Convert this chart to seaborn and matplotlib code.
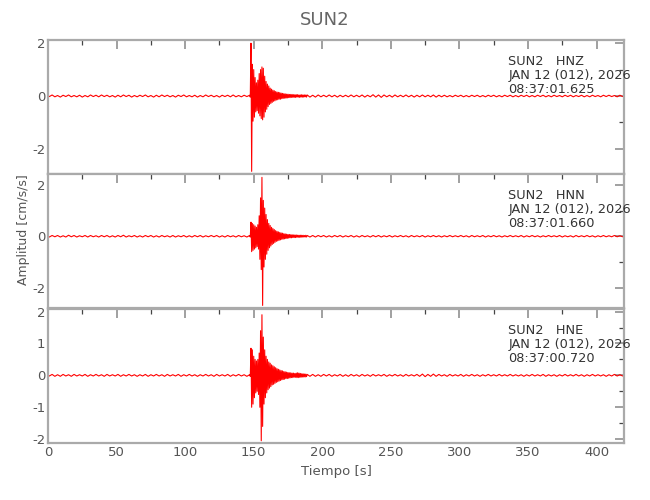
import numpy as np
import matplotlib
matplotlib.use("Agg")
import matplotlib.pyplot as plt
import seaborn as sns
from matplotlib.ticker import MultipleLocator

# --- data (cm/s/s) ---
# quiet noise before the event, one value every 2 s, ending at 145 s
hnz_pre = [0.03, -0.02, 0.04, -0.03, 0.02, -0.04, 0.03, -0.02, 0.04, -0.03,
           0.02, -0.03, 0.03, -0.04, 0.02, -0.03, 0.04, -0.02, 0.03, -0.03,
           0.04, -0.02, 0.03, -0.03, 0.02, -0.04, 0.03, -0.03, 0.04, -0.02,
           0.03, -0.04, 0.02, -0.03, 0.03, -0.02, 0.04, -0.03, 0.02, -0.04,
           0.03, -0.03, 0.04, -0.02, 0.03, -0.03, 0.02, -0.04, 0.03, -0.02,
           0.04, -0.03, 0.02, -0.03, 0.03, -0.04, 0.02, -0.03, 0.04, -0.02,
           0.03, -0.03, 0.02, -0.04, 0.03, -0.02, 0.03, -0.03, 0.04, -0.03,
           0.02, -0.03, 0.03, -0.02]
hnn_pre = [0.02, -0.03, 0.03, -0.02, 0.03, -0.03, 0.02, -0.03, 0.04, -0.02,
           0.03, -0.03, 0.02, -0.02, 0.03, -0.03, 0.03, -0.02, 0.02, -0.03,
           0.03, -0.02, 0.03, -0.03, 0.02, -0.03, 0.03, -0.02, 0.04, -0.03,
           0.02, -0.02, 0.03, -0.03, 0.02, -0.03, 0.03, -0.02, 0.03, -0.03,
           0.02, -0.03, 0.03, -0.02, 0.02, -0.03, 0.03, -0.03, 0.02, -0.02,
           0.03, -0.03, 0.02, -0.03, 0.03, -0.02, 0.03, -0.03, 0.02, -0.02,
           0.03, -0.02, 0.03, -0.03, 0.02, -0.03, 0.03, -0.02, 0.02, -0.03,
           0.03, -0.02, 0.02, -0.03]
hne_pre = [0.02, -0.02, 0.03, -0.03, 0.02, -0.03, 0.03, -0.02, 0.02, -0.03,
           0.03, -0.02, 0.02, -0.02, 0.03, -0.03, 0.02, -0.02, 0.03, -0.02,
           0.02, -0.03, 0.03, -0.02, 0.02, -0.02, 0.03, -0.03, 0.02, -0.02,
           0.03, -0.02, 0.02, -0.03, 0.02, -0.02, 0.03, -0.03, 0.02, -0.02,
           0.03, -0.02, 0.02, -0.03, 0.03, -0.02, 0.02, -0.02, 0.03, -0.03,
           0.02, -0.02, 0.03, -0.02, 0.02, -0.03, 0.02, -0.02, 0.03, -0.02,
           0.02, -0.03, 0.03, -0.02, 0.02, -0.02, 0.03, -0.03, 0.02, -0.02,
           0.03, -0.02, 0.02, -0.03]

# strong motion, one value every 0.5 s from 147 s
hnz_event = [0.03, -0.04, 2.0, -2.85, 1.2, -0.95, 1.0, -0.8, 0.7, -0.6,
             0.5, -0.55, 0.6, -0.65, 0.85, -0.75, 1.0, -0.85, 1.1, -0.9,
             1.05, -0.8, 0.75, -0.6, 0.55, -0.5, 0.45, -0.4, 0.38, -0.32,
             0.3, -0.28, 0.26, -0.24, 0.22, -0.2, 0.2, -0.18, 0.17, -0.15,
             0.15, -0.14, 0.14, -0.12, 0.13, -0.12, 0.11, -0.1, 0.1, -0.09,
             0.09, -0.08, 0.08, -0.08, 0.07, -0.07, 0.07, -0.06, 0.06, -0.06,
             0.06, -0.05, 0.06, -0.05, 0.05, -0.05, 0.05, -0.05, 0.05, -0.04,
             0.05, -0.04, 0.04, -0.05, 0.04, -0.04, 0.05, -0.04, 0.04, -0.04,
             0.04, -0.03, 0.04, -0.04]
hnn_event = [0.03, -0.03, 0.55, -0.6, 0.5, -0.55, 0.45, -0.5, 0.4, -0.45,
             0.35, -0.4, 0.45, -0.5, 0.8, -0.9, 1.5, -1.3, 2.3, -2.7,
             1.4, -1.2, 1.1, -0.9, 0.85, -0.7, 0.65, -0.55, 0.5, -0.45,
             0.42, -0.38, 0.35, -0.32, 0.3, -0.28, 0.26, -0.24, 0.22, -0.2,
             0.19, -0.18, 0.17, -0.16, 0.15, -0.14, 0.13, -0.12, 0.12, -0.11,
             0.1, -0.1, 0.09, -0.09, 0.08, -0.08, 0.07, -0.07, 0.07, -0.06,
             0.06, -0.06, 0.06, -0.05, 0.05, -0.05, 0.05, -0.05, 0.05, -0.04,
             0.04, -0.04, 0.04, -0.04, 0.04, -0.04, 0.04, -0.03, 0.04, -0.03,
             0.03, -0.03, 0.04, -0.03]
hne_event = [0.02, -0.03, 0.85, -1.0, 0.8, -0.9, 0.6, -0.7, 0.5, -0.55,
             0.45, -0.5, 0.5, -0.6, 0.7, -1.0, 1.4, -2.05, 1.9, -1.6,
             1.2, -0.9, 0.8, -0.7, 0.6, -0.55, 0.5, -0.45, 0.42, -0.4,
             0.38, -0.35, 0.33, -0.3, 0.3, -0.28, 0.27, -0.25, 0.24, -0.22,
             0.21, -0.2, 0.19, -0.18, 0.17, -0.16, 0.15, -0.14, 0.14, -0.13,
             0.12, -0.12, 0.11, -0.1, 0.1, -0.1, 0.09, -0.09, 0.08, -0.08,
             0.08, -0.07, 0.07, -0.07, 0.07, -0.06, 0.06, -0.06, 0.07, -0.07,
             0.08, -0.07, 0.07, -0.06, 0.06, -0.06, 0.05, -0.05, 0.05, -0.05,
             0.04, -0.05, 0.04, -0.04]

# coda / noise after the event, one value every 2 s from 189 s
hnz_post = [0.04, -0.04, 0.03, -0.04, 0.04, -0.03, 0.03, -0.03, 0.04, -0.03,
            0.03, -0.04, 0.03, -0.03, 0.03, -0.03, 0.04, -0.03, 0.03, -0.03,
            0.04, -0.04, 0.03, -0.03, 0.05, -0.04, 0.04, -0.05, 0.04, -0.03,
            0.03, -0.04, 0.04, -0.03, 0.03, -0.03, 0.04, -0.03, 0.03, -0.04,
            0.03, -0.03, 0.04, -0.03, 0.03, -0.03, 0.04, -0.04, 0.03, -0.03,
            0.03, -0.03, 0.02, -0.03, 0.03, -0.02, 0.03, -0.03, 0.02, -0.03,
            0.03, -0.02, 0.03, -0.03, 0.02, -0.03, 0.03, -0.02, 0.03, -0.03,
            0.02, -0.03, 0.03, -0.02, 0.03, -0.03, 0.02, -0.03, 0.03, -0.02,
            0.03, -0.03, 0.02, -0.03, 0.03, -0.02, 0.03, -0.03, 0.02, -0.03,
            0.03, -0.02, 0.02, -0.03, 0.03, -0.02, 0.03, -0.03, 0.02, -0.02,
            0.03, -0.03, 0.02, -0.03, 0.03, -0.02, 0.02, -0.03, 0.03, -0.02,
            0.03, -0.02, 0.02, -0.03, 0.03, -0.02]
hnn_post = [0.03, -0.03, 0.03, -0.03, 0.03, -0.02, 0.03, -0.03, 0.02, -0.03,
            0.03, -0.02, 0.03, -0.03, 0.02, -0.02, 0.03, -0.03, 0.02, -0.03,
            0.03, -0.02, 0.02, -0.03, 0.03, -0.02, 0.03, -0.03, 0.02, -0.02,
            0.03, -0.03, 0.02, -0.02, 0.03, -0.02, 0.02, -0.03, 0.03, -0.02,
            0.02, -0.02, 0.03, -0.03, 0.02, -0.02, 0.03, -0.02, 0.02, -0.03,
            0.02, -0.02, 0.03, -0.02, 0.02, -0.02, 0.03, -0.02, 0.02, -0.03,
            0.03, -0.02, 0.02, -0.02, 0.03, -0.03, 0.02, -0.02, 0.03, -0.02,
            0.02, -0.03, 0.02, -0.02, 0.03, -0.02, 0.02, -0.02, 0.03, -0.03,
            0.02, -0.02, 0.03, -0.02, 0.02, -0.03, 0.02, -0.02, 0.03, -0.02,
            0.02, -0.02, 0.03, -0.03, 0.02, -0.02, 0.02, -0.03, 0.03, -0.02,
            0.02, -0.02, 0.03, -0.02, 0.02, -0.03, 0.02, -0.02, 0.03, -0.02,
            0.02, -0.02, 0.03, -0.02, 0.02, -0.02]
hne_post = [0.03, -0.03, 0.03, -0.03, 0.02, -0.03, 0.03, -0.02, 0.03, -0.03,
            0.02, -0.02, 0.03, -0.03, 0.02, -0.03, 0.03, -0.02, 0.02, -0.03,
            0.03, -0.02, 0.02, -0.03, 0.03, -0.02, 0.02, -0.02, 0.03, -0.03,
            0.02, -0.02, 0.03, -0.02, 0.02, -0.03, 0.03, -0.02, 0.02, -0.02,
            0.03, -0.03, 0.04, -0.04, 0.03, -0.03, 0.04, -0.03, 0.03, -0.02,
            0.02, -0.03, 0.03, -0.02, 0.02, -0.02, 0.03, -0.03, 0.02, -0.02,
            0.03, -0.02, 0.02, -0.03, 0.02, -0.02, 0.03, -0.02, 0.02, -0.02,
            0.03, -0.02, 0.02, -0.02, 0.03, -0.02, 0.02, -0.02, 0.02, -0.03,
            0.02, -0.02, 0.03, -0.02, 0.02, -0.02, 0.03, -0.03, 0.02, -0.02,
            0.02, -0.03, 0.02, -0.02, 0.03, -0.02, 0.02, -0.02, 0.03, -0.02,
            0.02, -0.03, 0.02, -0.02, 0.03, -0.02, 0.02, -0.02, 0.02, -0.03,
            0.02, -0.02, 0.03, -0.02, 0.02, -0.02]

channels = ["HNZ", "HNN", "HNE"]
start_times = ["08:37:01.625", "08:37:01.660", "08:37:00.720"]
station = "SUN2"
date_label = "JAN 12 (012), 2026"
y_limits = [(-2.95, 2.12), (-2.8, 2.43), (-2.12, 2.08)]
y_major = [2, 2, 1]
x_max = 420


def make_trace(pre, event, post):
    t_pre = 147 - 2 * np.arange(len(pre), 0, -1)
    t_evt = 147 + 0.5 * np.arange(len(event))
    t_post = 189 + 2 * np.arange(len(post))
    t = np.concatenate([t_pre, t_evt, t_post])
    v = np.concatenate([pre, event, post])
    return t, v


traces = [make_trace(hnz_pre, hnz_event, hnz_post),
          make_trace(hnn_pre, hnn_event, hnn_post),
          make_trace(hne_pre, hne_event, hne_post)]

sns.set_style("white")
plt.rcParams["font.family"] = ["DejaVu Sans"]
plt.rcParams["axes.unicode_minus"] = False

fig = plt.figure(figsize=(6.5, 5), dpi=100)
left, width = 48 / 650, 576 / 650
tops = [40, 174, 309]
height = 134 / 500
text_col = "#555555"

for i, (t, v) in enumerate(traces):
    ax = fig.add_axes([left, 1 - (tops[i] + 134) / 500, width, height])
    sns.lineplot(x=t, y=v, ax=ax, color="#ff0000", linewidth=0.8,
                 estimator=None, sort=False)
    ax.set_xlim(0, x_max)
    ax.set_ylim(*y_limits[i])
    ax.xaxis.set_major_locator(MultipleLocator(50))
    ax.xaxis.set_minor_locator(MultipleLocator(25))
    ax.yaxis.set_major_locator(MultipleLocator(y_major[i]))
    ax.yaxis.set_minor_locator(MultipleLocator(y_major[i] / 2))
    ax.tick_params(which="both", direction="in", top=True, right=True,
                   labelsize=9.5, labelcolor=text_col, pad=2)
    ax.tick_params(which="major", length=6.5, width=1.3, color="#999999")
    ax.tick_params(which="minor", length=3.3, width=0.9, color="#444444")
    for sp in ax.spines.values():
        sp.set_color("#aaaaaa")
        sp.set_linewidth(1.6)
    if i < 2:
        ax.tick_params(labelbottom=False)
    ax.set_xlabel("")
    ax.set_ylabel("")
    for k, line in enumerate([f"{station}   {channels[i]}", date_label,
                              start_times[i]]):
        ax.text(0.799, 0.84 - k * 0.105, line, transform=ax.transAxes,
                fontsize=9.3, color="#333333", va="center", ha="left")

fig.text(0.5, 0.96, station, ha="center", va="center", fontsize=13,
         color="#666666")
fig.text(left + width / 2, 0.056, "Tiempo [s]", ha="center", va="center",
         fontsize=9.5, color=text_col)
fig.text(0.036, 0.54, "Amplitud [cm/s/s]", ha="center", va="center",
         rotation=90, fontsize=9, color=text_col)

fig.savefig("out.png", dpi=100)
